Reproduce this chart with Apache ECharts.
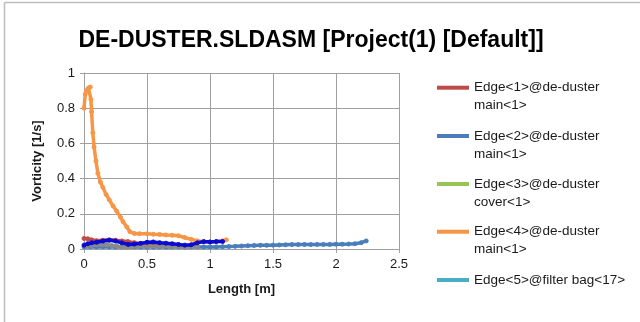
<!DOCTYPE html>
<html>
<head>
<meta charset="utf-8">
<script src="https://cdn.jsdelivr.net/npm/echarts@6/dist/echarts.min.js"></script>
<style>
html,body{margin:0;padding:0;background:#fff;}
#c{width:640px;height:322px;}
</style>
</head>
<body>
<div id="c"></div>
<script>
const titleText = 'DE-DUSTER.SLDASM [Project(1) [Default]]';
const xTicks = [0, 0.5, 1, 1.5, 2, 2.5];
const yTicks = [0, 0.2, 0.4, 0.6, 0.8, 1];
const legendNames = [
  'Edge<1>@de-duster main<1>',
  'Edge<2>@de-duster main<1>',
  'Edge<3>@de-duster cover<1>',
  'Edge<4>@de-duster main<1>',
  'Edge<5>@filter bag<17>'
];
const edge1 = [[0,0.060],[0.03,0.058],[0.06,0.052],[0.10,0.047],[0.15,0.050],[0.20,0.052],[0.25,0.050],[0.30,0.046],[0.35,0.042],[0.40,0.036],[0.45,0.031],[0.50,0.028],[0.55,0.024],[0.60,0.020],[0.65,0.015],[0.70,0.012]];
const edge2 = [[0,0.012],[0.05,0.013],[0.10,0.012],[0.15,0.013],[0.20,0.012],[0.25,0.011],[0.30,0.012],[0.35,0.013],[0.40,0.012],[0.45,0.012],[0.50,0.011],[0.55,0.011],[0.60,0.012],[0.65,0.011],[0.70,0.012],[0.75,0.012],[0.80,0.011],[0.85,0.012],[0.90,0.012],[0.95,0.012],[1.00,0.012],[1.05,0.012],[1.10,0.013],[1.15,0.014],[1.20,0.015],[1.25,0.017],[1.30,0.019],[1.35,0.020],[1.40,0.021],[1.45,0.021],[1.50,0.022],[1.55,0.023],[1.60,0.024],[1.65,0.025],[1.70,0.025],[1.75,0.026],[1.80,0.025],[1.85,0.026],[1.90,0.026],[1.95,0.026],[2.00,0.027],[2.05,0.027],[2.10,0.028],[2.15,0.030],[2.20,0.036],[2.24,0.046]];
const edge3 = [];
const edge4 = [[0,0.80],[0.01,0.88],[0.02,0.90],[0.035,0.915],[0.05,0.92],[0.055,0.85],[0.06,0.78],[0.07,0.66],[0.08,0.58],[0.095,0.50],[0.11,0.43],[0.13,0.38],[0.15,0.35],[0.175,0.31],[0.20,0.28],[0.23,0.245],[0.26,0.215],[0.29,0.18],[0.31,0.155],[0.34,0.125],[0.365,0.098],[0.40,0.088],[0.44,0.087],[0.50,0.086],[0.55,0.084],[0.60,0.083],[0.65,0.080],[0.70,0.078],[0.75,0.075],[0.80,0.065],[0.85,0.055],[0.90,0.046],[0.95,0.041],[1.00,0.040],[1.05,0.042],[1.10,0.046],[1.13,0.052]];
const edge5 = [];
const extraGray = [[0.02,0.018],[0.06,0.020],[0.10,0.024],[0.14,0.026],[0.18,0.024],[0.22,0.020],[0.26,0.016],[0.30,0.012],[0.34,0.010],[0.38,0.012],[0.42,0.015],[0.50,0.016],[0.60,0.015],[0.70,0.014],[0.80,0.012],[0.90,0.014]];
const extraBlue = [[0,0.022],[0.03,0.030],[0.06,0.035],[0.10,0.038],[0.15,0.045],[0.20,0.050],[0.25,0.045],[0.30,0.035],[0.35,0.026],[0.40,0.028],[0.45,0.032],[0.50,0.038],[0.55,0.040],[0.60,0.036],[0.65,0.033],[0.70,0.030],[0.75,0.026],[0.80,0.022],[0.85,0.024],[0.90,0.035],[0.95,0.042],[1.00,0.040],[1.05,0.042],[1.10,0.043]];

const colors = ['#be4b48','#4a7ebb','#98c454','#f79646','#4bacc6'];
const seriesData = [edge1, edge2, edge3, edge4, edge5];

const chart = echarts.init(document.getElementById('c'), null, {renderer:'canvas'});
const font = 'Liberation Sans';

function mkSeries(name, data, color, z) {
  return {
    name: name, type: 'line', data: data, z: z,
    symbol: 'circle', symbolSize: 4, showSymbol: true,
    lineStyle: {color: color, width: 3.5},
    itemStyle: {color: color, borderColor: color},
    emphasis: {disabled: true},
    animation: false
  };
}
const series = legendNames.map((n,i) => mkSeries(n, seriesData[i], colors[i], 2 + i));
series.push(mkSeries('extra gray', extraGray, '#8a8a8a', 8));
series.push(mkSeries('extra blue', extraBlue, '#0a0ad0', 9));

const legendCenters = [82.7, 131, 179, 226.7, 275];
const legends = legendNames.map((n, i) => ({
  data: [{name: n, icon: 'rect'}],
  orient: 'vertical',
  left: 432,
  top: legendCenters[i] - 27,
  itemWidth: 32,
  itemHeight: 4,
  selectedMode: false,
  textStyle: {fontFamily: font, fontSize: 13.5, color: '#1a1a1a', lineHeight: 18},
  formatter: function (name) {
    const sp = name.lastIndexOf(' ');
    if (name.indexOf('filter bag') >= 0) return '\n' + name + '\n';
    return '\n' + name.slice(0, sp) + '\n' + name.slice(sp + 1);
  }
}));

chart.setOption({
  animation: false,
  title: {
    text: titleText, left: 306, top: 24, textAlign: 'center',
    textStyle: {fontFamily: font, fontSize: 23, fontWeight: 'bold', color: '#000'}
  },
  legend: legends,
  grid: {left: 84, right: 241, top: 73, bottom: 73, containLabel: false},
  xAxis: {
    type: 'value', min: xTicks[0], max: xTicks[xTicks.length-1], interval: 0.5,
    name: 'Length [m]', nameLocation: 'middle', nameGap: 34,
    nameTextStyle: {fontFamily: font, fontSize: 13, fontWeight: 'bold', color: '#1a1a1a'},
    axisLine: {show: true, lineStyle: {color: '#a0a0a0', width: 1}},
    axisTick: {show: true, length: 4, lineStyle: {color: '#a0a0a0'}},
    axisLabel: {fontFamily: font, fontSize: 13, color: '#1a1a1a', margin: 9},
    splitLine: {show: true, lineStyle: {color: '#a0a0a0', width: 1}}
  },
  yAxis: {
    type: 'value', min: yTicks[0], max: yTicks[yTicks.length-1], interval: 0.2,
    name: 'Vorticity [1/s]', nameLocation: 'middle', nameGap: 40,
    nameTextStyle: {fontFamily: font, fontSize: 13, fontWeight: 'bold', color: '#1a1a1a'},
    axisLine: {show: true, lineStyle: {color: '#a0a0a0', width: 1}},
    axisTick: {show: true, length: 4, lineStyle: {color: '#a0a0a0'}},
    axisLabel: {fontFamily: font, fontSize: 13, color: '#1a1a1a', margin: 9},
    splitLine: {show: true, lineStyle: {color: '#a0a0a0', width: 1}}
  },
  graphic: [
    {type: 'line', shape: {x1: 4.5, y1: 2.5, x2: 640, y2: 2.5}, style: {stroke: '#bdbdbd', lineWidth: 1.5}, silent: true},
    {type: 'line', shape: {x1: 4.5, y1: 2.5, x2: 4.5, y2: 322}, style: {stroke: '#bdbdbd', lineWidth: 1.5}, silent: true}
  ],
  series: series
});
</script>
</body>
</html>
